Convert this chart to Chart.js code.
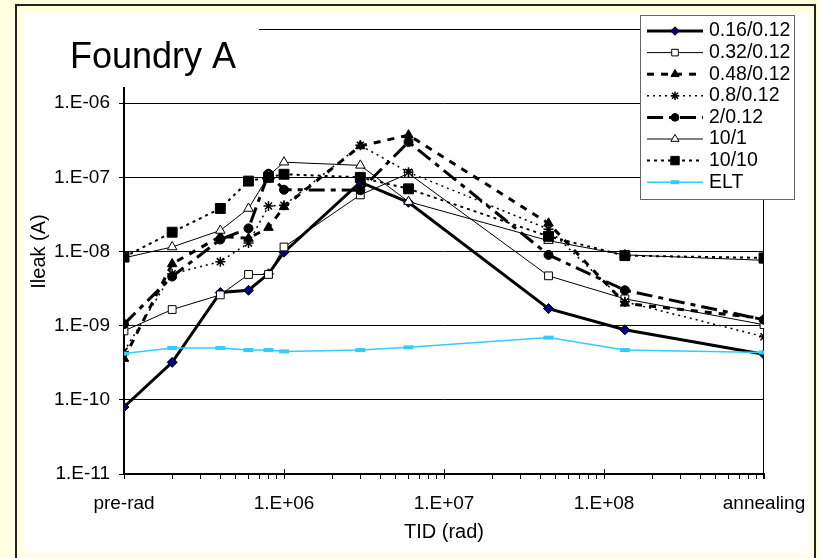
<!DOCTYPE html>
<html>
<head>
<meta charset="utf-8">
<title>Foundry A</title>
<script src="https://cdn.jsdelivr.net/npm/chart.js@4"></script>
<style>
  html, body { margin:0; padding:0; overflow:hidden; background:#FFFFE0; }
  #frame { position:absolute; left:15px; top:4px; width:797px; height:600px; border:2px solid #222; }
  #inner { position:absolute; left:24px; top:13px; width:786px; height:540px; background:#fff; }
  #chart { position:absolute; left:0; top:0; }
</style>
</head>
<body>
<div id="frame"></div>
<div id="inner"></div>
<canvas id="chart" width="819" height="558"></canvas>
<script>
/* =====================================================
   DATA
===================================================== */

// TID steps in rad; pre-rad drawn at 1e5, annealing at 1e9
const doses = [1e5, 2e5, 4e5, 6e5, 8e5, 1e6, 3e6, 6e6, 4.5e7, 1.35e8, 1e9];

const xTickValues = [1e5, 1e6, 1e7, 1e8, 1e9];
const xTickLabels = ["pre-rad", "1.E+06", "1.E+07", "1.E+08", "annealing"];

const names = ["0.16/0.12", "0.32/0.12", "0.48/0.12", "0.8/0.12", "2/0.12", "10/1", "10/10", "ELT"];

const w016  = [8e-11, 3.2e-10, 2.8e-9, 3.0e-9, 5.0e-9, 9.8e-9, 8.6e-8, 4.6e-8, 1.7e-9, 8.8e-10, 4.1e-10];
const w032  = [8.5e-10, 1.65e-9, 2.6e-9, 4.9e-9, 4.9e-9, 1.15e-8, 5.8e-8, 1.13e-7, 4.7e-9, 2.3e-9, 1.03e-9];
const w048  = [3.6e-10, 6.8e-9, 1.6e-8, 1.5e-8, 2.1e-8, 4.0e-8, 2.65e-7, 3.7e-7, 2.4e-8, 2.0e-9, 1.25e-9];
const w08   = [4.5e-10, 5.0e-9, 7.3e-9, 1.3e-8, 4.1e-8, 4.2e-8, 2.7e-7, 1.17e-7, 2.0e-8, 2.1e-9, 7.1e-10];
const w2    = [1.05e-9, 4.6e-9, 1.45e-8, 2.05e-8, 1.12e-7, 6.8e-8, 6.7e-8, 3.0e-7, 9.0e-9, 3.0e-9, 1.2e-9];
const w10_1 = [8.2e-9, 1.15e-8, 1.92e-8, 3.8e-8, 1.05e-7, 1.6e-7, 1.45e-7, 4.7e-8, 1.4e-8, 9.0e-9, 7.6e-9];
const w10_10 = [8.4e-9, 1.82e-8, 3.8e-8, 8.9e-8, 1.0e-7, 1.1e-7, 1.0e-7, 7.0e-8, 1.6e-8, 8.8e-9, 8.2e-9];
const elt   = [4.2e-10, 5.0e-10, 5.0e-10, 4.7e-10, 4.7e-10, 4.5e-10, 4.7e-10, 5.1e-10, 6.9e-10, 4.7e-10, 4.35e-10];

const FONT = "'Liberation Sans', Arial, sans-serif";


/* =====================================================
   DATASET STYLES
===================================================== */

function series(i, values, style) {
  return Object.assign({
    label: names[i],
    data: doses.map((d, k) => ({ x: d, y: values[k] })),
    borderColor: "#000",
    borderWidth: 1,
    borderDash: [],
    pointStyle: "circle",
    pointRadius: 5,
    pointBackgroundColor: "#000",
    pointBorderColor: "#000",
    pointBorderWidth: 1,
    tension: 0,
    order: 7 - i
  }, style);
}

const datasets = [
  series(0, w016,  { borderWidth: 3, pointStyle: "rectRot", pointRadius: 5, pointBackgroundColor: "#000080" }),
  series(1, w032,  { pointStyle: "rect", pointRadius: 5.5, pointBackgroundColor: "#fff" }),
  series(2, w048,  { borderWidth: 3, borderDash: [7, 7], pointStyle: "triangle", pointRadius: 5.5 }),
  series(3, w08,   { borderWidth: 1.5, borderDash: [2, 4], pointStyle: "star", pointRadius: 5, pointBorderWidth: 1.5 }),
  series(4, w2,    { borderWidth: 3, borderDash: [16, 6, 5, 6], pointStyle: "circle", pointRadius: 4.5 }),
  series(5, w10_1, { pointStyle: "triangle", pointRadius: 5.5, pointBackgroundColor: "#fff" }),
  series(6, w10_10, { borderWidth: 2, borderDash: [3, 4], pointStyle: "rect", pointRadius: 7 }),
  series(7, elt,   { borderColor: "#33CCFF", borderWidth: 1.5, pointStyle: "line", pointRadius: 5,
                     pointBorderColor: "#33CCFF", pointBackgroundColor: "#33CCFF", pointBorderWidth: 4 })
];


/* =====================================================
   TITLE BOX, FRAME LINES AND LEGEND
===================================================== */

function marker(ctx, ds, x, y, scale) {
  ctx.save();
  ctx.setLineDash([]);
  ctx.fillStyle = ds.pointBackgroundColor;
  ctx.strokeStyle = ds.pointBorderColor;
  ctx.lineWidth = ds.pointBorderWidth;
  const opts = { pointStyle: ds.pointStyle, radius: ds.pointRadius * scale, rotation: 0, borderWidth: ds.pointBorderWidth };
  if (Chart.helpers && Chart.helpers.drawPoint) {
    Chart.helpers.drawPoint(ctx, opts, x, y);
  } else {
    ctx.beginPath();
    ctx.arc(x, y, opts.radius, 0, Math.PI * 2);
    ctx.fill();
    ctx.stroke();
  }
  ctx.restore();
}

const decor = {
  id: "decor",
  beforeDatasetsDraw(chart) {
    const { ctx, chartArea: a } = chart;
    const xs = chart.scales.x;
    ctx.save();
    ctx.strokeStyle = "#000";
    ctx.lineWidth = 1;
    ctx.beginPath();
    ctx.moveTo(a.left, a.top + 0.5);
    ctx.lineTo(a.right, a.top + 0.5);
    ctx.moveTo(a.right - 0.5, a.top);
    ctx.lineTo(a.right - 0.5, a.bottom + 5);
    // major x ticks cross the axis
    [1e6, 1e7, 1e8].forEach(v => {
      const px = Math.round(xs.getPixelForValue(v)) + 0.5;
      ctx.moveTo(px, a.bottom - 5);
      ctx.lineTo(px, a.bottom);
    });
    ctx.stroke();
    ctx.restore();
  },
  afterDraw(chart) {
    const ctx = chart.ctx;
    ctx.save();

    // title box
    ctx.fillStyle = "#fff";
    ctx.fillRect(24, 13, 235, 74);
    ctx.fillStyle = "#000";
    ctx.font = "36px " + FONT;
    ctx.textAlign = "left";
    ctx.textBaseline = "alphabetic";
    ctx.fillText("Foundry A", 70, 68);

    // legend
    const lx = 640, ly = 15, lw = 154, lh = 184;
    ctx.fillStyle = "#fff";
    ctx.fillRect(lx, ly, lw, lh);
    ctx.strokeStyle = "#666";
    ctx.lineWidth = 1;
    ctx.strokeRect(lx + 0.5, ly + 0.5, lw, lh);

    chart.data.datasets.forEach((ds, i) => {
      const y = 31 + i * 21.6;
      ctx.save();
      ctx.strokeStyle = ds.borderColor;
      ctx.lineWidth = ds.borderWidth;
      ctx.setLineDash(ds.borderDash);
      ctx.beginPath();
      ctx.moveTo(647, y);
      ctx.lineTo(703, y);
      ctx.stroke();
      ctx.restore();
      marker(ctx, ds, 675, y, 0.85);

      ctx.fillStyle = "#000";
      ctx.font = "19.5px " + FONT;
      ctx.textBaseline = "middle";
      ctx.fillText(ds.label, 709, y);
    });

    ctx.restore();
  }
};


/* =====================================================
   CHART
===================================================== */

new Chart(document.getElementById("chart"), {
  type: "line",
  data: { datasets: datasets },
  plugins: [decor],
  options: {
    responsive: false,
    animation: false,
    layout: { padding: { left: 24, right: 55, top: 29, bottom: 0 } },
    plugins: {
      legend: { display: false },
      tooltip: { enabled: false }
    },
    scales: {
      x: {
        type: "logarithmic",
        min: 1e5,
        max: 1e9,
        afterFit: s => { s.height = 84; },
        afterBuildTicks: s => {
          const t = [];
          for (let e = 5; e < 9; e++) {
            for (let m = 1; m < 10; m++) t.push({ value: m * Math.pow(10, e) });
          }
          t.push({ value: 1e9 });
          s.ticks = t;
        },
        ticks: {
          autoSkip: false,
          maxRotation: 0,
          padding: 13,
          color: "#000",
          font: { family: FONT, size: 19 },
          callback: v => {
            const k = xTickValues.findIndex(t => Math.abs(t - v) / t < 1e-6);
            return k >= 0 ? xTickLabels[k] : "";
          }
        },
        grid: { drawOnChartArea: false, drawTicks: true, tickLength: 5, color: "#000", lineWidth: 1 },
        border: { color: "#000", width: 2 },
        title: {
          display: true,
          text: "TID (rad)",
          color: "#000",
          font: { family: FONT, size: 20 },
          padding: { top: 0, bottom: 14 }
        }
      },
      y: {
        type: "logarithmic",
        min: 1e-11,
        max: 1e-5,
        afterFit: s => { s.width = 100; },
        afterBuildTicks: s => {
          const t = [];
          for (let e = -11; e <= -5; e++) t.push({ value: Math.pow(10, e) });
          s.ticks = t;
        },
        ticks: {
          autoSkip: false,
          padding: 9,
          color: "#000",
          font: { family: FONT, size: 19 },
          callback: v => {
            const e = Math.round(Math.log10(v));
            if (e >= -5) return "";
            return "1.E-" + String(-e).padStart(2, "0");
          }
        },
        grid: { color: "#000", lineWidth: 1, tickLength: 5 },
        border: { color: "#000", width: 2 },
        title: {
          display: true,
          text: "Ileak (A)",
          color: "#000",
          font: { family: FONT, size: 20 },
          padding: { top: 3, bottom: 0 }
        }
      }
    }
  }
});
</script>
</body>
</html>
